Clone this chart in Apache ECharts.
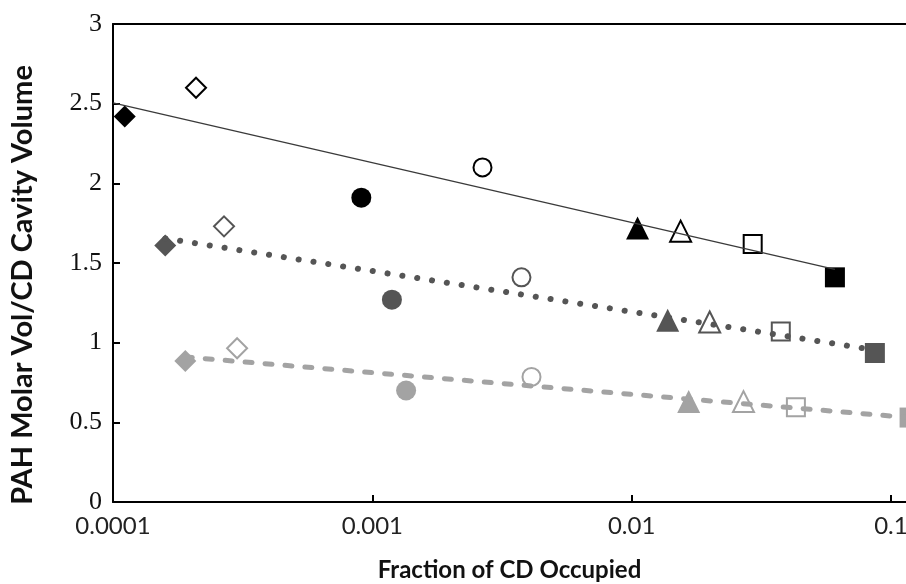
<!DOCTYPE html>
<html>
<head>
<meta charset="utf-8">
<script src="https://cdn.jsdelivr.net/npm/echarts@6/dist/echarts.min.js"></script>
<style>html,body{margin:0;padding:0;background:#fff}#c{width:906px;height:584px}</style>
</head>
<body>
<div id="c"></div>
<script>
// Marker key (same order within each group)
const markerSymbols = ['diamond', 'diamond', 'circle', 'circle', 'triangle', 'triangle', 'rect', 'rect'];
const markerFilled  = [true, false, true, false, true, false, false, true];

// Black group
const blackX = [0.000111, 0.000209, 0.000907, 0.00266, 0.01054, 0.01545, 0.0293, 0.0608];
const blackY = [2.42, 2.60, 1.91, 2.10, 1.72, 1.70, 1.62, 1.41];
// Dark grey group
const darkX = [0.000159, 0.000268, 0.00119, 0.00376, 0.01377, 0.0200, 0.0376, 0.0867];
const darkY = [1.61, 1.73, 1.27, 1.41, 1.14, 1.13, 1.07, 0.935];
// Light grey group
const lightX = [0.000190, 0.000301, 0.00135, 0.00411, 0.0166, 0.0270, 0.0430, 0.118];
const lightY = [0.885, 0.965, 0.70, 0.785, 0.63, 0.63, 0.595, 0.53];

// Trend lines (end points)
const blackTrendX = [0.0001, 0.0608];
const blackTrendY = [2.505, 1.46];
const darkTrendX = [0.000159, 0.0867];
const darkTrendY = [1.654, 0.954];
const lightTrendX = [0.000190, 0.118];
const lightTrendY = [0.91, 0.53];

const xTickValues = [0.0001, 0.001, 0.01, 0.1];
const xTickLabels = ['0.0001', '0.001', '0.01', '0.1'];

const COLORS = { black: '#000000', dark: '#555555', light: '#a3a3a3' };

function pts(xs, ys) { return xs.map((x, i) => [x, ys[i]]); }

function markerSeries(xs, ys, color) {
  const data = xs.map((x, i) => {
    const filled = markerFilled[i];
    const sym = markerSymbols[i];
    let size = 20;
    if (sym === 'diamond') size = 22;
    if (sym === 'triangle') size = 23;
    if (!filled) size -= 2;
    return {
      value: [x, ys[i]],
      symbol: sym,
      symbolSize: size,
      itemStyle: filled
        ? { color: color, borderWidth: 0, opacity: 1 }
        : { color: '#ffffff', borderColor: color, borderWidth: 2, opacity: 1 }
    };
  });
  return { type: 'scatter', data: data, clip: false, z: 3, silent: true, itemStyle: { opacity: 1 } };
}

function trendSeries(xs, ys, color, width, type, cap) {
  return {
    type: 'line', data: pts(xs, ys), symbol: 'none', z: 5, silent: true, clip: false,
    lineStyle: { color: color, width: width, type: type, cap: cap, opacity: 1 }
  };
}

const chart = echarts.init(document.getElementById('c'), null, { renderer: 'canvas' });
chart.setOption({
  animation: false,
  backgroundColor: '#ffffff',
  grid: { left: 113, right: 0, top: 24, bottom: 82, containLabel: false, outerBoundsMode: 'none' },
  xAxis: [{
    type: 'log', logBase: 10, min: 0.0001, max: 0.1143,
    name: 'Fraction of CD Occupied', nameLocation: 'middle', nameGap: 56,
    nameTextStyle: { fontFamily: 'Lato', fontWeight: 'bold', fontSize: 24, color: '#111' },
    axisLine: { show: true, onZero: false, lineStyle: { color: '#000', width: 2 } },
    axisTick: { show: true, inside: true, length: 7, lineStyle: { color: '#000', width: 2 } },
    minorTick: { show: false },
    splitLine: { show: false },
    axisLabel: {
      margin: 12, fontFamily: 'Lato', fontSize: 24, color: '#222',
      showMaxLabel: false,
      formatter: function (v) {
        for (let i = 0; i < xTickValues.length; i++) {
          if (Math.abs(Math.log10(v) - Math.log10(xTickValues[i])) < 1e-6) return xTickLabels[i];
        }
        return '';
      }
    }
  }, {
    type: 'log', logBase: 10, min: 0.0001, max: 0.1143, position: 'top',
    axisLine: { show: true, onZero: false, lineStyle: { color: '#000', width: 2 } },
    axisTick: { show: false }, axisLabel: { show: false }, splitLine: { show: false }
  }],
  yAxis: {
    type: 'value', min: 0, max: 3, interval: 0.5,
    name: 'PAH Molar Vol/CD Cavity Volume', nameLocation: 'middle', nameGap: 76,
    nameTextStyle: { fontFamily: 'Lato', fontWeight: 'bold', fontSize: 29, color: '#111', padding: [0, 44, 0, 0] },
    axisLine: { show: true, lineStyle: { color: '#000', width: 2 } },
    axisTick: { show: true, inside: true, length: 7, lineStyle: { color: '#000', width: 2 } },
    splitLine: { show: false },
    axisLabel: { margin: 11, fontFamily: 'Liberation Serif', fontSize: 26, color: '#111' }
  },
  series: [
    markerSeries(blackX, blackY, COLORS.black),
    markerSeries(darkX, darkY, COLORS.dark),
    markerSeries(lightX, lightY, COLORS.light),
    trendSeries(blackTrendX, blackTrendY, '#3a3a3a', 1.3, 'solid', 'butt'),
    trendSeries(darkTrendX, darkTrendY, COLORS.dark, 6, [0.1, 14.9], 'round'),
    trendSeries(lightTrendX, lightTrendY, COLORS.light, 5, [7, 13], 'round')
  ]
});
</script>
</body>
</html>
